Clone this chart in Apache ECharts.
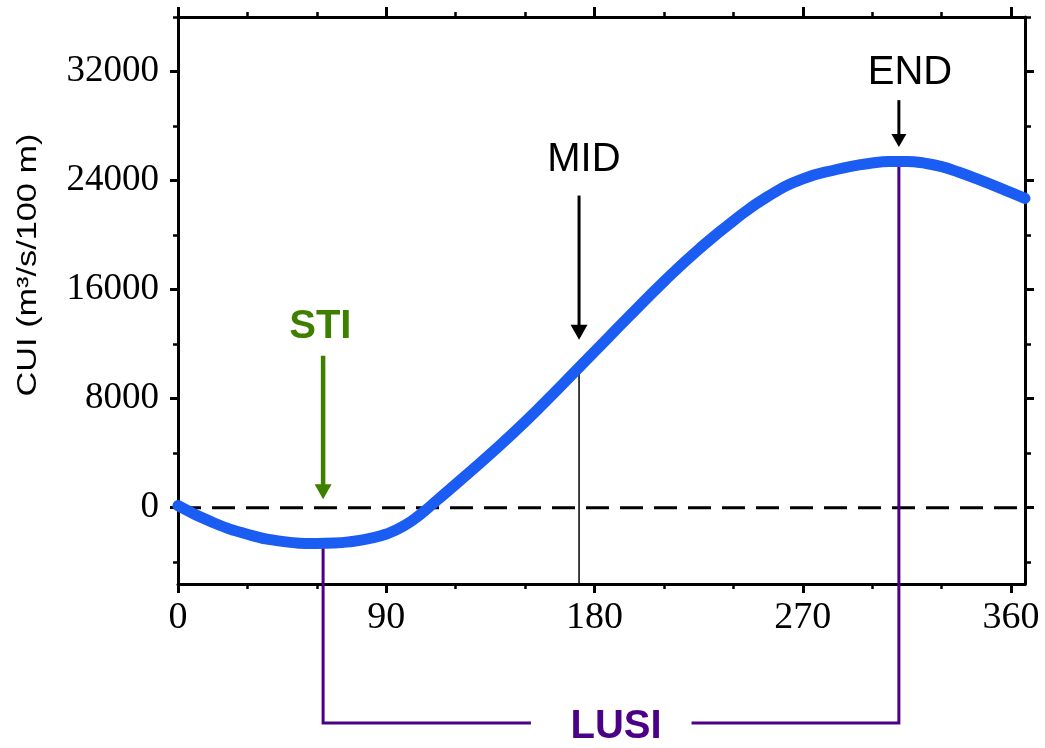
<!DOCTYPE html>
<html><head><meta charset="utf-8">
<script src="https://cdn.jsdelivr.net/npm/echarts@6/dist/echarts.min.js"></script>
<style>html,body{margin:0;padding:0;background:#fff}#c{width:1045px;height:748px}</style>
</head><body><div id="c"></div>
<script>
// ---- data ----
const days = [0,15,30,45,60,67.5,75,82.5,90,97.5,105,112.5,120,135,150,165,180,195,210,225,240,255,270,285,292.5,300,307.5,315,322.5,330,337.5,345,360,366];
const cui  = [150,-1080,-1950,-2470,-2625,-2600,-2484,-2270,-1932,-1351,-451,625,1720,3950,6300,8850,11450,14050,16600,18950,21050,22850,24120,24830,25090,25290,25390,25400,25280,25020,24610,24140,23120,22690];
const xTickLabels = [0,90,180,270,360];
const xMinorTicks = [30,60,120,150,210,240,300,330];
const yTickLabels = [0,8000,16000,24000,32000];
const yMinorTicks = [-4000,4000,12000,20000,28000,36000];
const zeroLine = [[0,0],[366,0]];
// markers: STI, MID, END
const markerNames  = ['STI','MID','END'];
const markerX      = [62.7, 173.3, 311.5];
const markerCurveY = [-2620, 10300, 25400];
const arrowTopY    = [11150, 22900, 29900];
const arrowTipY    = [610, 12320, 26470];
const arrowShaftEndY = [1250, 12900, 27000];
const labelX       = [61.5, 175.4, 316.3];
const labelY       = [13260, 25490, 31930];
// LUSI bracket
const lusiY = -15790;
const lusiGapX = [152.5, 221.9];
const lusiLabel = {x: 189.3, y: -16080, text: 'LUSI'};

const X_MIN = 0, X_MAX = 366, Y_MIN = -5600, Y_MAX = 36000;
const GREEN = '#3f7f00', PURPLE = '#4b0088', BLUE = '#1b5cf2';
const serif = '"Liberation Serif", "Times New Roman", serif';
const sans = '"Liberation Sans", Arial, sans-serif';

function xAx(pos, ticks, len, width, showLine, labels) {
  return {
    type: 'value', position: pos, min: X_MIN, max: X_MAX,
    axisLine: {show: showLine, onZero: false, lineStyle: {color: '#000', width: 3}},
    axisTick: {show: true, inside: false, length: len, customValues: ticks, lineStyle: {color: '#000', width: width}},
    axisLabel: labels ? {show: true, customValues: ticks, formatter: v => String(v), fontFamily: serif, fontSize: 38, color: '#000', margin: 15} : {show: false},
    splitLine: {show: false}
  };
}
function yAx(pos, ticks, len, width, showLine, labels) {
  return {
    type: 'value', position: pos, min: Y_MIN, max: Y_MAX,
    axisLine: {show: showLine, onZero: false, lineStyle: {color: '#000', width: 3}},
    axisTick: {show: true, inside: false, length: len, customValues: ticks, lineStyle: {color: '#000', width: width}},
    axisLabel: labels ? {show: true, customValues: ticks, formatter: v => String(v), fontFamily: serif, fontSize: 37, color: '#000', margin: 19} : {show: false},
    splitLine: {show: false}
  };
}

function seg(data, color, width, type) {
  return {type: 'line', data: data, symbol: 'none', clip: false, silent: true, animation: false,
    lineStyle: {color: color, width: width, type: type || 'solid', cap: 'butt', join: 'miter', opacity: 1}, z: 3};
}

const series = [];
series.push(seg(zeroLine, '#000', 3, [23, 11]));
// MID thin line down to the axis
series.push(seg([[markerX[1], markerCurveY[1]], [markerX[1], Y_MIN]], '#000', 1.5));
// LUSI bracket
series.push(seg([[markerX[0], markerCurveY[0]], [markerX[0], lusiY], [lusiGapX[0], lusiY]], PURPLE, 3));
series.push(seg([[lusiGapX[1], lusiY], [markerX[2], lusiY], [markerX[2], markerCurveY[2]]], PURPLE, 3));
// curve
series.push({type: 'line', data: days.map((d, i) => [d, cui[i]]), symbol: 'none', smooth: 0.5,
  silent: true, animation: false, lineStyle: {color: BLUE, width: 11, cap: 'round', opacity: 1}, z: 4});
// arrows
const arrowColors = [GREEN, '#000', '#000'];
const shaftW = [4.5, 3, 3];
const headSize = [[17, 15], [17, 15], [15, 13]];
for (let i = 0; i < 3; i++) {
  const s = seg([[markerX[i], arrowTopY[i]], [markerX[i], arrowShaftEndY[i]]], arrowColors[i], shaftW[i]);
  s.z = 5;
  series.push(s);
  series.push({type: 'scatter', data: [[markerX[i], arrowTipY[i]]], symbol: 'triangle', symbolRotate: 180,
    symbolSize: headSize[i], symbolOffset: [0, -headSize[i][1] / 2], clip: false, silent: true, animation: false,
    itemStyle: {color: arrowColors[i], opacity: 1}, z: 6});
}
// text labels
const labelColors = [GREEN, '#000', '#000'];
const labelWeights = ['bold', 'normal', 'normal'];
function textPoint(x, y, text, color, weight) {
  return {type: 'scatter', data: [[x, y]], symbolSize: 1, clip: false, silent: true, animation: false,
    itemStyle: {color: '#fff', opacity: 0},
    label: {show: true, position: 'inside', formatter: text, color: color, opacity: 1,
      fontFamily: sans, fontSize: 40, fontWeight: weight, textBorderWidth: 0}, z: 7};
}
for (let i = 0; i < 3; i++) series.push(textPoint(labelX[i], labelY[i], markerNames[i], labelColors[i], labelWeights[i]));
series.push(textPoint(lusiLabel.x, lusiLabel.y, lusiLabel.text, PURPLE, 'bold'));

const chart = echarts.init(document.getElementById('c'), null, {renderer: 'canvas'});
chart.setOption({
  animation: false,
  backgroundColor: '#fff',
  grid: {left: 178, right: 20, top: 17, bottom: 164, containLabel: false},
  xAxis: [
    xAx('bottom', xTickLabels, 9, 3, true, true),
    xAx('bottom', xMinorTicks, 5, 2.5, false, false),
    xAx('top', xTickLabels, 10, 3, true, false),
    xAx('top', xMinorTicks, 5, 2.5, false, false)
  ],
  yAxis: [
    yAx('left', yTickLabels, 8, 3, true, true),
    yAx('left', yMinorTicks, 5, 2.5, false, false),
    yAx('right', yTickLabels, 9, 3, true, false),
    yAx('right', yMinorTicks, 6, 2.5, false, false)
  ],
  graphic: [{
    type: 'text', x: 29, y: 265, rotation: Math.PI / 2, scaleX: 1.27, scaleY: 1, silent: true,
    style: {text: 'CUI (m³/s/100 m)', fontFamily: sans, fontSize: 27, fill: '#000', align: 'center', verticalAlign: 'middle'}
  }],
  series: series.map(s => Object.assign({xAxisIndex: 0, yAxisIndex: 0}, s))
});
</script></body></html>
